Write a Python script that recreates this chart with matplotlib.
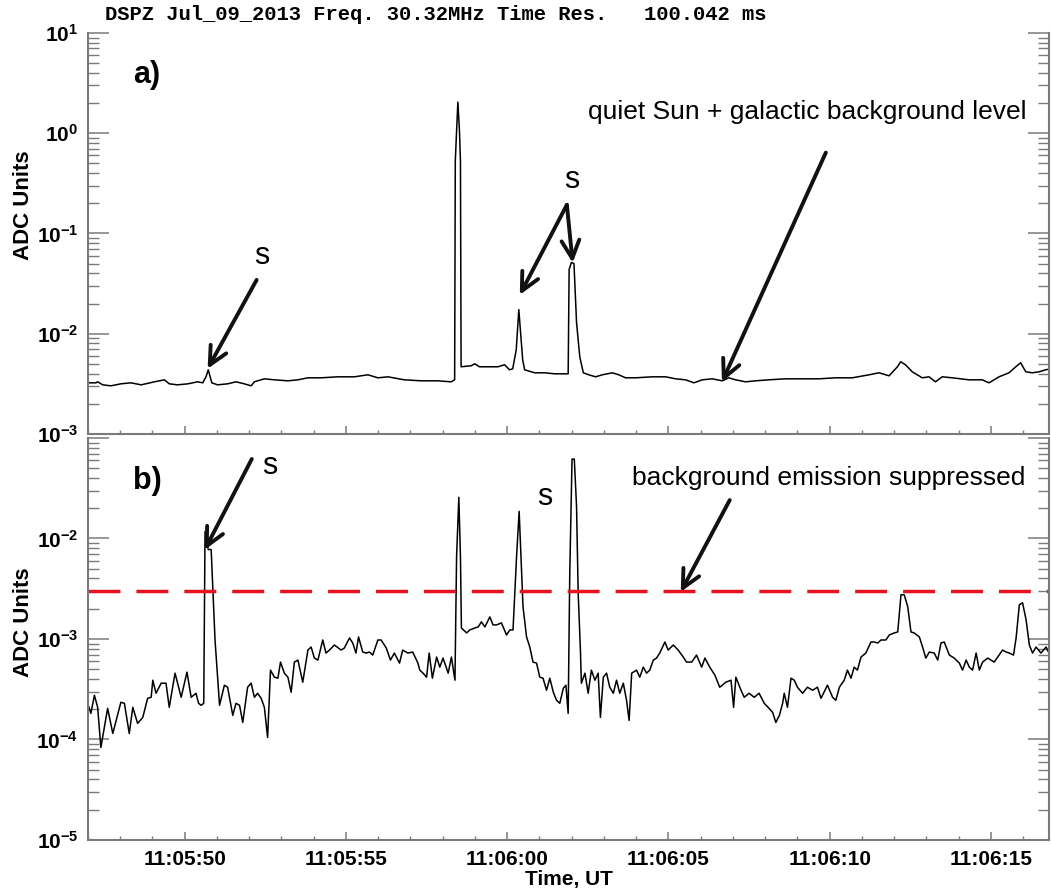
import numpy as np
import pandas as pd
import matplotlib
matplotlib.use("Agg")
import matplotlib.pyplot as plt
import matplotlib.dates as mdates
from matplotlib.ticker import LogLocator, FuncFormatter, NullFormatter

plt.rcParams['font.family'] = ['Liberation Sans', 'DejaVu Sans']
plt.rcParams['mathtext.fontset'] = 'custom'
plt.rcParams['mathtext.rm'] = 'Liberation Sans'
plt.rcParams['mathtext.bf'] = 'Liberation Sans:bold'

t0 = pd.Timestamp("2013-07-09 11:05:50")

# panel a) - seconds after 11:05:50 and log10(ADC units)
top_t = [-3.01, -2.75, -2.70, -2.54, -2.29, -1.98, -1.67, -1.35, -0.94, -0.63,
         -0.48, -0.22, 0.10, 0.40, 0.56, 0.66, 0.73, 0.84, 1.02, 1.33,
         1.59, 1.85, 2.06, 2.16, 2.47, 2.78, 3.20, 3.51, 3.82, 4.23,
         4.75, 5.26, 5.68, 5.99, 6.30, 6.81, 7.33, 7.85, 8.26, 8.37,
         8.39, 8.43, 8.47, 8.52, 8.55, 8.57, 8.88, 8.99, 9.14, 9.40,
         9.71, 9.92, 10.07, 10.17, 10.28, 10.36, 10.48, 10.54, 10.85, 11.16,
         11.47, 11.78, 11.89, 11.92, 11.99, 12.07, 12.15, 12.25, 12.36, 12.53,
         12.74, 12.95, 13.26, 13.46, 13.67, 13.98, 14.50, 14.91, 15.22, 15.53,
         15.79, 16.05, 16.36, 16.67, 16.87, 17.08, 17.39, 17.70, 18.11, 18.63,
         19.15, 19.67, 20.18, 20.70, 21.22, 21.53, 21.84, 22.10, 22.20, 22.35,
         22.56, 22.87, 23.08, 23.28, 23.49, 23.80, 24.32, 24.73, 24.94, 25.25,
         25.56, 25.77, 25.92, 26.08, 26.28, 26.49, 26.70, 26.86]
top_log = [-2.49, -2.49, -2.48, -2.51, -2.52, -2.50, -2.49, -2.51, -2.48, -2.46,
           -2.50, -2.51, -2.50, -2.48, -2.49, -2.43, -2.36, -2.49, -2.51, -2.50,
           -2.48, -2.50, -2.52, -2.48, -2.45, -2.46, -2.47, -2.46, -2.44, -2.44,
           -2.43, -2.43, -2.41, -2.44, -2.43, -2.46, -2.47, -2.47, -2.48, -2.46,
           -0.28, 0.02, 0.31, 0.02, -0.28, -2.33, -2.32, -2.30, -2.33, -2.33,
           -2.33, -2.31, -2.36, -2.35, -2.16, -1.76, -2.26, -2.36, -2.39, -2.39,
           -2.40, -2.40, -2.40, -1.36, -1.29, -1.30, -1.89, -2.23, -2.39, -2.41,
           -2.43, -2.41, -2.39, -2.41, -2.44, -2.44, -2.43, -2.43, -2.45, -2.46,
           -2.49, -2.46, -2.45, -2.47, -2.44, -2.46, -2.48, -2.47, -2.46, -2.45,
           -2.45, -2.45, -2.44, -2.44, -2.41, -2.39, -2.42, -2.33, -2.28, -2.31,
           -2.38, -2.44, -2.43, -2.48, -2.43, -2.44, -2.46, -2.46, -2.49, -2.43,
           -2.39, -2.33, -2.29, -2.38, -2.39, -2.38, -2.36, -2.35]

# panel b)
bot_t = [-3.01, -2.91, -2.80, -2.70, -2.60, -2.39, -2.23, -1.98, -1.87, -1.72,
         -1.61, -1.46, -1.30, -1.15, -1.04, -0.99, -0.89, -0.73, -0.58, -0.48,
         -0.30, -0.11, 0.07, 0.20, 0.35, 0.43, 0.51, 0.59, 0.63, 0.73,
         0.82, 0.94, 1.08, 1.23, 1.33, 1.49, 1.59, 1.70, 1.80, 1.95,
         2.06, 2.16, 2.26, 2.37, 2.47, 2.57, 2.66, 2.78, 2.89, 2.97,
         3.09, 3.20, 3.30, 3.40, 3.51, 3.66, 3.82, 3.92, 4.02, 4.13,
         4.28, 4.38, 4.49, 4.64, 4.85, 4.95, 5.11, 5.21, 5.31, 5.39,
         5.52, 5.63, 5.73, 5.83, 5.99, 6.09, 6.25, 6.38, 6.50, 6.66,
         6.76, 6.92, 7.07, 7.23, 7.29, 7.39, 7.50, 7.58, 7.68, 7.81,
         7.91, 8.01, 8.17, 8.27, 8.38, 8.43, 8.50, 8.55, 8.58, 8.74,
         8.84, 9.00, 9.10, 9.20, 9.31, 9.46, 9.56, 9.67, 9.82, 9.98,
         10.08, 10.18, 10.29, 10.37, 10.49, 10.60, 10.70, 10.80, 10.91, 11.01,
         11.11, 11.22, 11.32, 11.43, 11.53, 11.63, 11.74, 11.82, 11.89, 11.94,
         12.01, 12.08, 12.15, 12.20, 12.27, 12.30, 12.41, 12.51, 12.61, 12.72,
         12.82, 12.89, 12.98, 13.08, 13.18, 13.29, 13.39, 13.49, 13.60, 13.70,
         13.78, 13.86, 14.01, 14.11, 14.22, 14.32, 14.42, 14.53, 14.63, 14.73,
         14.89, 14.99, 15.15, 15.30, 15.46, 15.56, 15.72, 15.87, 16.03, 16.13,
         16.28, 16.44, 16.59, 16.78, 16.94, 17.02, 17.09, 17.25, 17.35, 17.50,
         17.66, 17.81, 17.97, 18.12, 18.23, 18.33, 18.44, 18.54, 18.59, 18.69,
         18.80, 18.90, 19.00, 19.16, 19.31, 19.47, 19.62, 19.73, 19.93, 20.09,
         20.19, 20.30, 20.45, 20.55, 20.66, 20.76, 20.86, 20.97, 21.12, 21.28,
         21.38, 21.49, 21.59, 21.74, 21.85, 22.00, 22.11, 22.21, 22.31, 22.42,
         22.52, 22.62, 22.78, 22.88, 22.98, 23.09, 23.24, 23.35, 23.45, 23.55,
         23.71, 23.86, 24.02, 24.12, 24.23, 24.33, 24.43, 24.54, 24.64, 24.74,
         24.90, 25.00, 25.10, 25.21, 25.36, 25.47, 25.57, 25.70, 25.78, 25.88,
         25.98, 26.09, 26.19, 26.29, 26.40, 26.55, 26.71, 26.86]
bot_log = [-3.64, -3.74, -3.56, -3.68, -4.08, -3.69, -3.94, -3.63, -3.64, -3.94,
           -3.68, -3.84, -3.78, -3.59, -3.58, -3.41, -3.54, -3.44, -3.44, -3.68,
           -3.34, -3.58, -3.33, -3.58, -3.54, -3.64, -3.66, -3.64, -1.93, -2.11,
           -2.11, -3.01, -3.66, -3.46, -3.48, -3.76, -3.64, -3.66, -3.83, -3.48,
           -3.44, -3.58, -3.54, -3.59, -3.68, -3.98, -3.31, -3.38, -3.39, -3.23,
           -3.34, -3.38, -3.53, -3.23, -3.21, -3.43, -3.11, -3.08, -3.19, -3.21,
           -3.01, -3.14, -3.11, -3.06, -3.11, -3.09, -2.99, -3.04, -3.14, -2.98,
           -3.13, -3.14, -3.13, -3.16, -3.01, -3.01, -3.09, -3.21, -3.14, -3.24,
           -3.11, -3.14, -3.13, -3.24, -3.31, -3.34, -3.38, -3.14, -3.39, -3.18,
           -3.28, -3.19, -3.34, -3.18, -3.41, -2.18, -1.59, -2.18, -2.89, -2.94,
           -2.91, -2.89, -2.88, -2.83, -2.88, -2.78, -2.86, -2.86, -2.84, -2.96,
           -2.91, -2.91, -2.18, -1.73, -2.68, -2.98, -3.08, -3.23, -3.24, -3.38,
           -3.39, -3.51, -3.39, -3.53, -3.61, -3.64, -3.49, -3.46, -3.74, -2.34,
           -1.21, -1.21, -1.68, -2.54, -3.11, -3.44, -3.34, -3.54, -3.31, -3.41,
           -3.34, -3.78, -3.38, -3.34, -3.48, -3.54, -3.41, -3.54, -3.44, -3.61,
           -3.81, -3.34, -3.31, -3.38, -3.28, -3.34, -3.31, -3.21, -3.19, -3.14,
           -3.03, -3.11, -3.06, -3.11, -3.18, -3.23, -3.23, -3.16, -3.28, -3.19,
           -3.28, -3.36, -3.48, -3.43, -3.41, -3.68, -3.38, -3.51, -3.58, -3.54,
           -3.58, -3.54, -3.64, -3.69, -3.73, -3.83, -3.76, -3.64, -3.54, -3.68,
           -3.39, -3.41, -3.48, -3.54, -3.48, -3.51, -3.48, -3.59, -3.46, -3.58,
           -3.61, -3.48, -3.41, -3.31, -3.39, -3.28, -3.31, -3.18, -3.14, -3.03,
           -3.03, -3.04, -3.01, -3.01, -2.96, -2.94, -2.93, -2.56, -2.56, -2.68,
           -2.93, -2.94, -2.98, -3.08, -3.19, -3.13, -3.14, -3.21, -3.04, -3.03,
           -3.16, -3.19, -3.24, -3.31, -3.21, -3.28, -3.31, -3.14, -3.31, -3.23,
           -3.19, -3.21, -3.23, -3.18, -3.11, -3.13, -3.14, -3.16, -2.99, -2.66,
           -2.64, -2.81, -3.06, -3.14, -3.08, -3.14, -3.08, -3.18]

threshold = 3e-3
title = "DSPZ Jul_09_2013 Freq. 30.32MHz Time Res.   100.042 ms"


def tm(sec):
    return t0 + pd.to_timedelta(np.atleast_1d(sec), unit="s")


def at(sec):
    return mdates.date2num(t0 + pd.Timedelta(seconds=sec))


grey = "#7a7a7a"
arrow = dict(arrowstyle="->,head_length=0.65,head_width=0.32", lw=2.8,
             color="#111111", mutation_scale=20, shrinkA=0, shrinkB=0)

fig = plt.figure(figsize=(10.51, 8.92), dpi=100)
ax1 = fig.add_axes([0.0837, 0.5135, 0.9144, 0.4496])
ax2 = fig.add_axes([0.0837, 0.0583, 0.9144, 0.4507])

ax1.plot(tm(top_t), 10 ** np.array(top_log), color="black", lw=1.1)
ax2.plot(tm(bot_t), 10 ** np.array(bot_log), color="black", lw=1.1)
ax2.axhline(threshold, color="#e8141c", lw=2.5, dashes=(9.2, 4.6))

ax1.set_ylim(1e-3, 1e1)
ax2.set_ylim(1e-5, 1e-1)


def ylab(v, p):
    e = int(round(np.log10(v)))
    return r"$\mathbf{10^{%d}}$" % e


def ylab_b(v, p):
    e = int(round(np.log10(v)))
    if e == -1:
        return ""
    return r"$\mathbf{10^{%d}}$" % e


for ax in (ax1, ax2):
    ax.set_yscale("log")
    ax.set_xlim(tm(-3.0)[0], tm(26.8)[0])
    ax.xaxis.set_major_locator(mdates.SecondLocator(bysecond=range(0, 60, 5)))
    ax.xaxis.set_minor_locator(mdates.SecondLocator())
    ax.xaxis.set_major_formatter(mdates.DateFormatter("%H:%M:%S"))
    ax.yaxis.set_major_locator(LogLocator(base=10, numticks=10))
    ax.yaxis.set_minor_locator(LogLocator(base=10, subs=np.arange(2, 10), numticks=20))
    ax.yaxis.set_minor_formatter(NullFormatter())
    ax.spines["top"].set_visible(False)
    for s in ("left", "bottom", "right"):
        ax.spines[s].set_color(grey)
        ax.spines[s].set_linewidth(1.5)
    ax.tick_params(axis="y", which="major", direction="in", length=15, width=1.1,
                   color=grey, left=True, right=True, pad=7, labelsize=15)
    ax.tick_params(axis="y", which="minor", direction="in", length=8, width=1.0,
                   color=grey, left=True, right=True)
    ax.tick_params(axis="x", which="major", direction="in", length=6, width=1.1,
                   color=grey, pad=7, labelsize=15)
    ax.tick_params(axis="x", which="minor", direction="in", length=3, width=1.0,
                   color=grey)
    for lab in ax.get_xticklabels():
        lab.set_fontweight("bold")

ax1.yaxis.set_major_formatter(FuncFormatter(ylab))
ax2.yaxis.set_major_formatter(FuncFormatter(ylab_b))
ax1.tick_params(axis="x", labelbottom=False)

ax1.set_ylabel("ADC Units", fontsize=16, fontweight="bold")
ax1.yaxis.set_label_coords(-0.056, 0.571)
ax2.set_ylabel("ADC Units", fontsize=16, fontweight="bold")
ax2.yaxis.set_label_coords(-0.056, 0.542)
ax2.set_xlabel("Time, UT", fontsize=15, fontweight="bold")
ax2.xaxis.set_label_coords(0.5, -0.075)

fig.text(105 / 1051, 1 - 15 / 892, title, family="Liberation Mono", fontweight="bold",
         fontsize=14.8, ha="left", va="center")

# panel a) annotations
ax1.text(at(-1.61), 3.81, "a)", fontsize=22, fontweight="bold", va="center")
ax1.text(at(12.5), 1.63, "quiet Sun + galactic background level", fontsize=19,
         va="center", ha="left")
ax1.annotate("", xy=(at(16.66), 3.3e-3), xytext=(at(19.88), 0.64), arrowprops=arrow)
ax1.text(at(12.0), 0.342, "s", fontsize=22, ha="center", va="center")
ax1.annotate("", xy=(at(10.39), 0.0244), xytext=(at(11.85), 0.193), arrowprops=arrow)
ax1.annotate("", xy=(at(12.03), 0.0509), xytext=(at(11.85), 0.193), arrowprops=arrow)
ax1.text(at(2.39), 0.0598, "s", fontsize=22, ha="center", va="center")
ax1.annotate("", xy=(at(0.71), 4.47e-3), xytext=(at(2.23), 0.0344), arrowprops=arrow)

# panel b) annotations
ax2.text(at(-1.61), 0.0373, "b)", fontsize=22, fontweight="bold", va="center")
ax2.text(at(2.64), 0.0526, "s", fontsize=22, ha="center", va="center")
ax2.annotate("", xy=(at(0.62), 7.7e-3), xytext=(at(2.08), 0.0618), arrowprops=arrow)
ax2.text(at(11.17), 0.0259, "s", fontsize=22, ha="center", va="center")
ax2.text(at(13.86), 0.040, "background emission suppressed", fontsize=19,
         va="center", ha="left")
ax2.annotate("", xy=(at(15.38), 2.94e-3), xytext=(at(16.90), 0.0241), arrowprops=arrow)

fig.savefig("out.png", dpi=100)
